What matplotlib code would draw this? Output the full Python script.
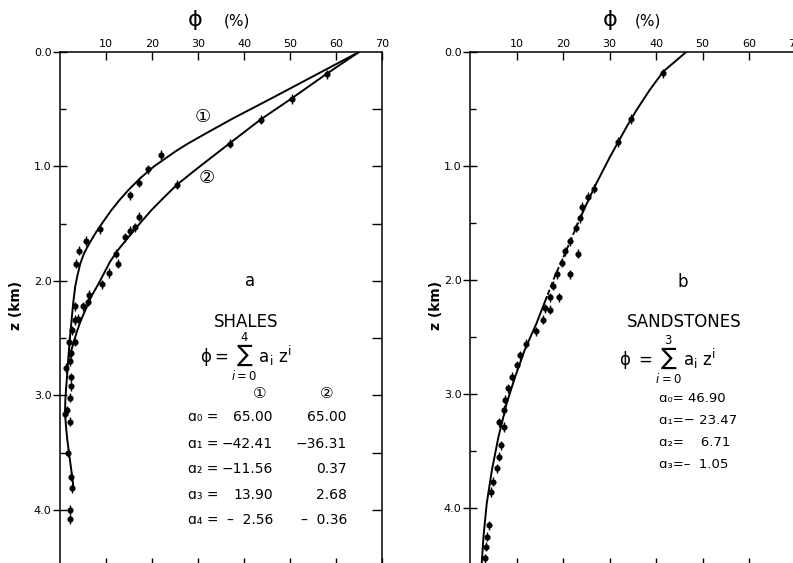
import matplotlib
matplotlib.use('Agg')
import matplotlib.pyplot as plt
from matplotlib.markers import TICKLEFT

plt.rcParams['font.family'] = ['DejaVu Sans', 'Noto Sans CJK JP']
plt.rcParams['mathtext.fontset'] = 'dejavusans'

# ---------------- data: shales (panel a) ----------------
shale_c1_z = [0.00, 0.20, 0.40, 0.58, 0.70, 0.80, 0.86, 0.93, 1.00, 1.10, 1.20, 1.29, 1.38,
              1.47, 1.57, 1.67, 1.76, 1.85, 1.95, 2.05, 2.20, 2.35, 2.50, 2.65, 2.80, 2.95,
              3.05, 3.16, 3.27, 3.39, 3.50, 3.62, 3.74, 3.80]
shale_c1_phi = [65.0, 55.6, 46.2, 37.6, 32.2, 27.8, 25.4, 22.9, 20.4, 17.5, 15.0, 13.0, 11.2,
                9.6, 7.9, 6.4, 5.2, 4.4, 3.8, 3.3, 2.85, 2.5, 2.15, 1.85, 1.6, 1.3,
                1.15, 1.1, 1.3, 1.6, 1.95, 2.35, 2.75, 2.9]

shale_c2_z = [0.00, 0.195, 0.41, 0.59, 0.80, 0.94, 1.05, 1.16, 1.27, 1.38, 1.50, 1.62, 1.73,
              1.83, 1.93, 2.03, 2.12, 2.22, 2.30, 2.37, 2.45, 2.53, 2.60, 2.66]
shale_c2_phi = [65.0, 57.8, 50.2, 43.6, 36.8, 32.3, 28.8, 25.4, 22.6, 19.9, 17.3, 14.8, 12.6,
                10.9, 9.6, 8.3, 7.0, 5.9, 5.0, 4.3, 3.6, 3.0, 2.5, 2.1]

shale_pts_phi = [58.0, 50.4, 43.8, 37.0, 22.0, 19.2, 17.2, 15.3, 25.4, 8.7, 5.65, 4.1, 3.5,
                 17.2, 16.2, 15.2, 14.2, 12.2, 12.6, 10.6, 9.1, 6.4, 6.0, 4.9, 3.3, 4.0, 3.3,
                 2.7, 3.2, 2.0, 2.3, 2.2, 1.2, 2.3, 2.4, 2.2, 1.1, 1.6, 2.2, 1.7, 2.3, 2.6,
                 2.25, 2.25]
shale_pts_z = [0.195, 0.41, 0.59, 0.80, 0.90, 1.025, 1.14, 1.25, 1.16, 1.55, 1.65, 1.735, 1.85,
               1.44, 1.53, 1.56, 1.62, 1.76, 1.85, 1.93, 2.03, 2.12, 2.18, 2.22, 2.22, 2.33, 2.34,
               2.43, 2.53, 2.53, 2.63, 2.70, 2.76, 2.84, 2.92, 3.02, 3.16, 3.13, 3.23, 3.50, 3.71, 3.81,
               4.00, 4.08]

# ---------------- data: sandstones (panel b) ----------------
sand_c_z = [0.00, 0.17, 0.33, 0.51, 0.655, 0.92, 1.15, 1.33, 1.43, 1.56, 1.77, 1.96, 2.15,
            2.38, 2.61, 2.85, 3.08, 3.38, 3.67, 3.96, 4.25, 4.50]
sand_c_phi = [46.5, 41.6, 38.7, 35.8, 33.7, 30.1, 27.2, 25.1, 24.0, 22.6, 20.4, 18.3, 16.5,
              14.3, 11.8, 9.7, 7.9, 6.1, 4.7, 3.6, 2.9, 2.5]

sand_pts_phi = [41.4, 34.6, 31.8, 26.6, 25.3, 24.0, 23.7, 22.7, 21.5, 20.4, 23.3, 19.7, 18.7,
                21.6, 17.8, 19.1, 17.1, 16.1, 17.2, 15.6, 14.2, 12.0, 10.8, 10.0, 9.0, 8.2,
                7.5, 7.4, 6.3, 7.4, 6.7, 6.3, 5.9, 5.0, 4.5, 4.15, 3.6, 3.5, 3.3]
sand_pts_z = [0.187, 0.588, 0.79, 1.20, 1.27, 1.36, 1.46, 1.54, 1.66, 1.75, 1.77, 1.85, 1.95,
              1.95, 2.05, 2.15, 2.15, 2.25, 2.26, 2.35, 2.45, 2.56, 2.66, 2.75, 2.85, 2.95,
              3.05, 3.14, 3.25, 3.29, 3.45, 3.55, 3.65, 3.77, 3.86, 4.15, 4.25, 4.34, 4.44]

x_ticks = [10, 20, 30, 40, 50, 60, 70]
y_major = [0.0, 1.0, 2.0, 3.0, 4.0]
y_labels = ['0.0', '1.0', '2.0', '3.0', '4.0']
y_minor = [0.5, 1.5, 2.5, 3.5]
y_right = [0.5, 1.0, 1.5, 2.0, 2.5, 3.0, 3.5, 4.0]

shale_rows = ['ɑ₀ =', 'ɑ₁ =', 'ɑ₂ =', 'ɑ₃ =', 'ɑ₄ =']
shale_col1 = ['65.00', '−42.41', '−11.56', '13.90', '–  2.56']
shale_col2 = ['65.00', '−36.31', '0.37', '2.68', '–  0.36']
sand_rows = ['ɑ₀= 46.90', 'ɑ₁=− 23.47', 'ɑ₂=    6.71', 'ɑ₃=–  1.05']

W, H = 793, 563
fig = plt.figure(figsize=(W / 100, H / 100), dpi=100)


def box(x0, x1, y0, y1):
    return [x0 / W, 1 - y1 / H, (x1 - x0) / W, (y1 - y0) / H]


def style(ax, zmax):
    ax.set_xlim(0, 70)
    ax.set_ylim(zmax, 0)
    ax.set_xticks(x_ticks)
    ax.set_xticklabels([str(t) for t in x_ticks])
    ax.tick_params(axis='x', which='both', top=True, bottom=True, labeltop=True,
                   labelbottom=False, direction='in', length=6, width=1, labelsize=8, pad=2)
    ax.set_yticks(y_major)
    ax.set_yticklabels(y_labels)
    ax.set_yticks(y_minor, minor=True)
    ax.tick_params(axis='y', which='major', direction='inout', length=10, width=1,
                   labelsize=8, pad=1, left=True, right=False)
    ax.tick_params(axis='y', which='minor', direction='in', length=4, width=1,
                   left=True, right=False)
    for s in ax.spines.values():
        s.set_linewidth(1.1)


zmax_a = (566 - 52) / 114.5
axL = fig.add_axes(box(60, 382, 52, 566))
style(axL, zmax_a)
# inward ticks on the right spine of panel a
axL.plot([70] * len(y_right), y_right, ls='none', marker=TICKLEFT, ms=7, mew=1,
         color='k', clip_on=False)

axL.plot(shale_c1_phi, shale_c1_z, color='k', lw=1.4)
axL.plot(shale_c2_phi, shale_c2_z, color='k', lw=1.4)
axL.errorbar(shale_pts_phi, shale_pts_z, yerr=0.04, fmt='o', ms=3.4, color='k',
             elinewidth=1, capsize=0)

axR = fig.add_axes(box(470, 470 + 4.65 * 70, 52, 566))
style(axR, (566 - 52) / 114.0)
i1 = sand_c_z.index(1.43)
i2 = sand_c_z.index(2.15)
axR.plot(sand_c_phi[:i1 + 1], sand_c_z[:i1 + 1], color='k', lw=1.4)
axR.plot(sand_c_phi[i1:i2 + 1], sand_c_z[i1:i2 + 1], color='k', lw=1.3, dashes=(3, 1.5))
axR.plot(sand_c_phi[i2:], sand_c_z[i2:], color='k', lw=1.4)
axR.errorbar(sand_pts_phi, sand_pts_z, yerr=0.04, fmt='o', ms=3.4, color='k',
             elinewidth=1, capsize=0)


def ftxt(x, y, s, **kw):
    fig.text(x / W, 1 - y / H, s, **kw)


# axis titles
for xp, xpc in [(195, 237), (610, 648)]:
    ftxt(xp, 20, 'ϕ', fontsize=16, ha='center', va='center')
    ftxt(xpc, 21, '(%)', fontsize=11, ha='center', va='center')
for xz in [16, 436]:
    ftxt(xz, 305, 'z (km)', fontsize=10, fontweight='bold', rotation=90,
         ha='center', va='center')

# panel a annotations
ftxt(203, 117, '①', fontsize=13, ha='center', va='center')
ftxt(207, 178, '②', fontsize=13, ha='center', va='center')
ftxt(250, 281, 'a', fontsize=12, ha='center', va='center')
ftxt(246, 322, 'SHALES', fontsize=12, ha='center', va='center')
ftxt(246, 357, r'$\mathrm{\phi}=\sum_{i=0}^{4}\,\mathrm{a_i\ z^i}$', fontsize=12,
     ha='center', va='center')
ftxt(260, 393, '①', fontsize=11, ha='center', va='center')
ftxt(327, 393, '②', fontsize=11, ha='center', va='center')
row_y = [417, 444, 469, 495, 520]
for lab, v1, v2, yy in zip(shale_rows, shale_col1, shale_col2, row_y):
    ftxt(188, yy, lab, fontsize=10, ha='left', va='center')
    ftxt(273, yy, v1, fontsize=10, ha='right', va='center')
    ftxt(347, yy, v2, fontsize=10, ha='right', va='center')

# panel b annotations
ftxt(683, 282, 'b', fontsize=12, ha='center', va='center')
ftxt(684, 322, 'SANDSTONES', fontsize=12, ha='center', va='center')
ftxt(668, 360, r'$\mathrm{\phi}\ =\sum_{i=0}^{3}\,\mathrm{a_i\ z^i}$', fontsize=12,
     ha='center', va='center')
for lab, yy in zip(sand_rows, [399, 421, 443, 465]):
    ftxt(659, yy, lab, fontsize=9.5, ha='left', va='center')

fig.savefig('out.png', dpi=100)
